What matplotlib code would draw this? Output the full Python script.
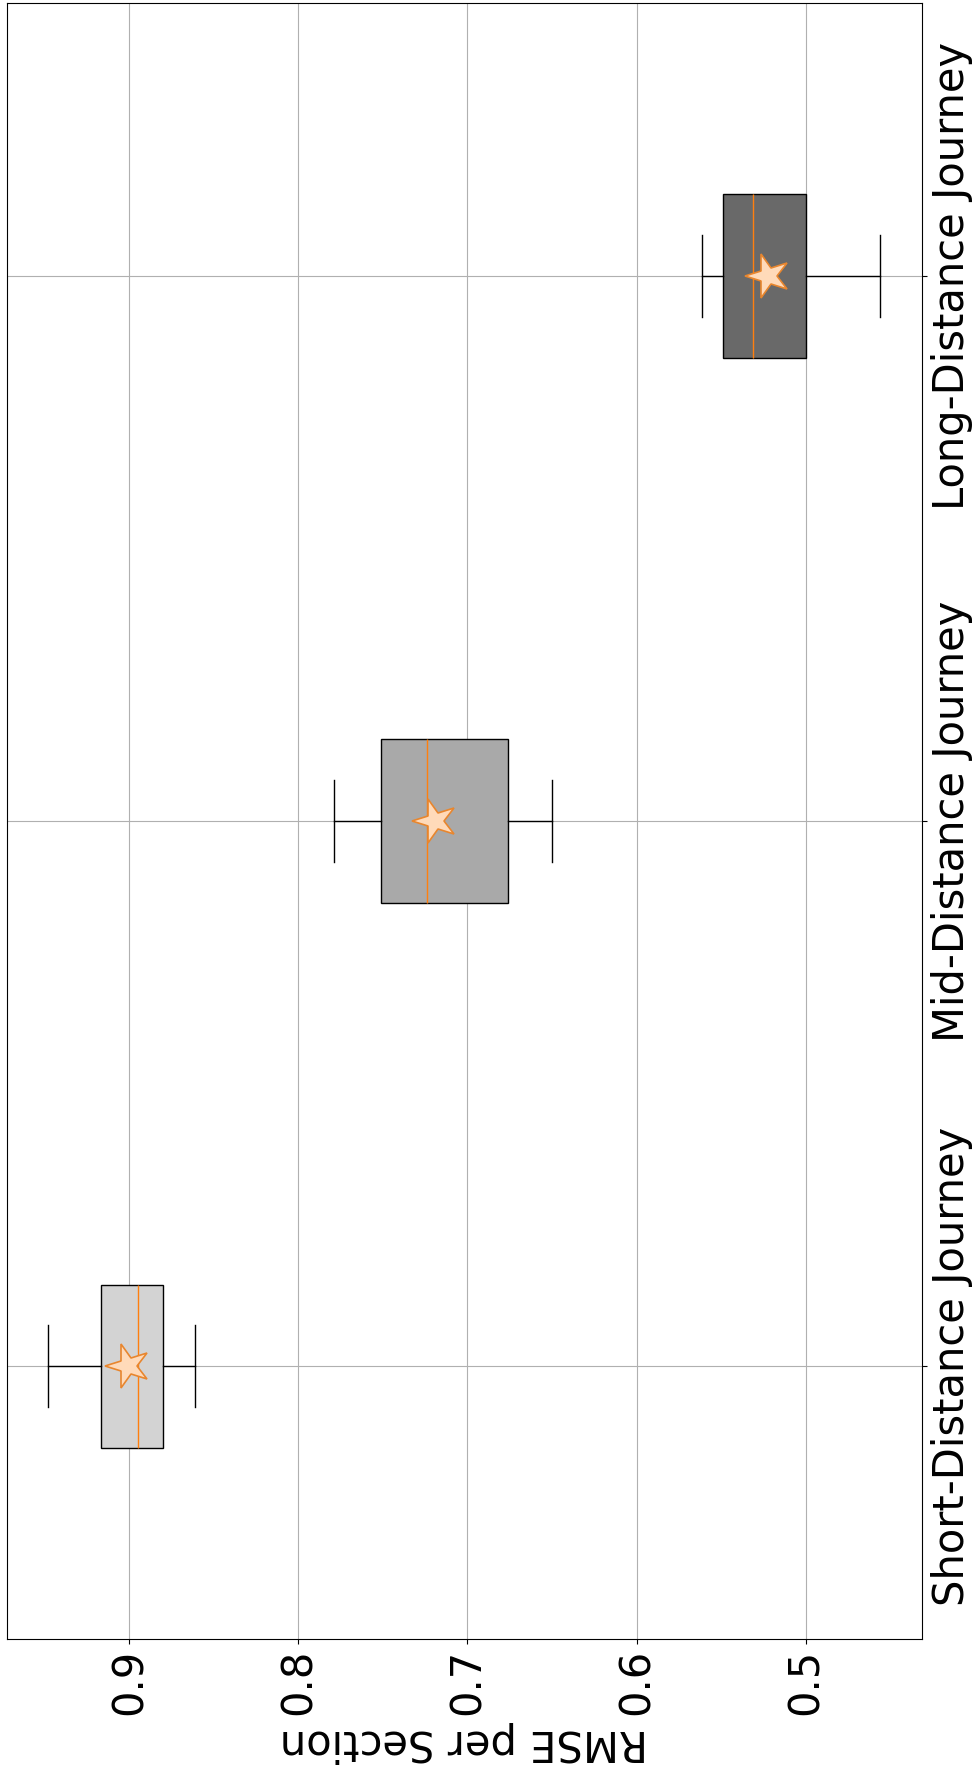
import matplotlib
matplotlib.use("Agg")
import matplotlib.pyplot as plt
from matplotlib.markers import MarkerStyle
from matplotlib.transforms import Affine2D

# Per-journey RMSE summary statistics
categories = ["Short-Distance Journey", "Mid-Distance Journey", "Long-Distance Journey"]
whisker_low = [0.861, 0.650, 0.456]
q1 = [0.880, 0.676, 0.500]
median = [0.895, 0.724, 0.531]
q3 = [0.917, 0.751, 0.549]
whisker_high = [0.948, 0.779, 0.561]
mean = [0.901, 0.719, 0.522]
rmse_ticks = [0.5, 0.6, 0.7, 0.8, 0.9]

box_colors = ["lightgray", "darkgray", "dimgray"]

stats = [
    dict(label=c, whislo=lo, q1=a, med=m, q3=b, whishi=hi, mean=mu, fliers=[])
    for c, lo, a, m, b, hi, mu in zip(categories, whisker_low, q1, median, q3,
                                      whisker_high, mean)
]

fig = plt.figure(figsize=(9.77, 17.72), dpi=100)
ax = fig.add_axes([6.7 / 977, (1772 - 1639) / 1772,
                   (921.5 - 6.7) / 977, (1639 - 3.3) / 1772])

star = MarkerStyle("*", transform=Affine2D().rotate_deg(90))
bp = ax.bxp(stats, orientation="horizontal", showmeans=True, patch_artist=True,
            meanprops=dict(marker=star, markerfacecolor="peachpuff",
                           markeredgecolor="#e8862e", markersize=33,
                           markeredgewidth=1.2))
for patch, col in zip(bp["boxes"], box_colors):
    patch.set_facecolor(col)

ax.invert_xaxis()
ax.grid(True)
ax.set_xticks(rmse_ticks)
ax.tick_params(axis="x", labelsize=30, labelrotation=90)
ax.set_xlabel("RMSE per Section", rotation=180, fontsize=30)

ax.yaxis.tick_right()
ax.set_yticks([1, 2, 3])
ax.set_yticklabels(categories, rotation=90, va="center", fontsize=30)

fig.savefig("out.png", dpi=100)
